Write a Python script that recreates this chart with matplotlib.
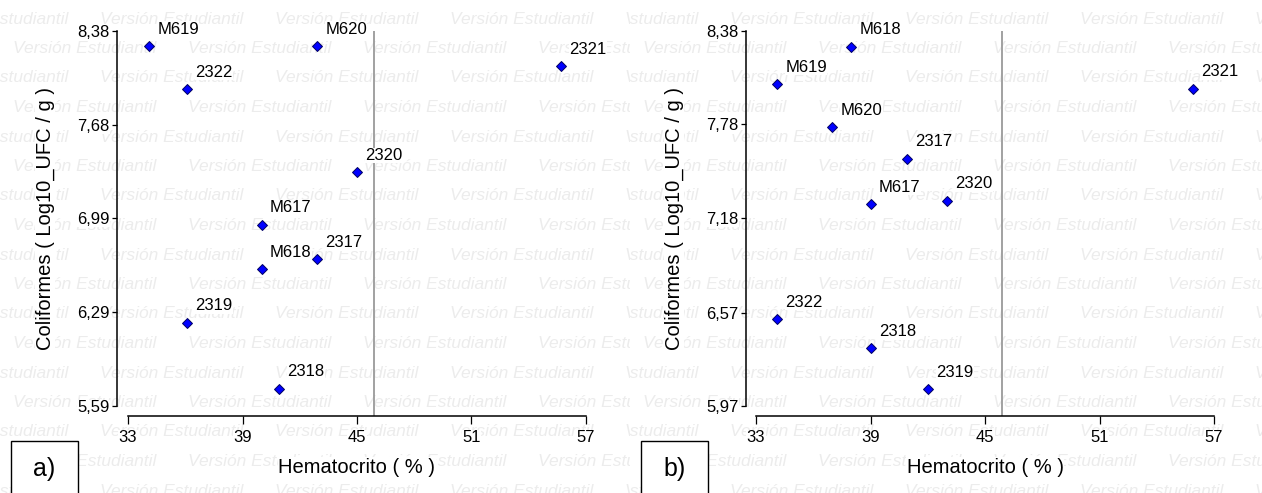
import numpy as np
import matplotlib
matplotlib.use('Agg')
import matplotlib.pyplot as plt
from matplotlib.patches import Rectangle

plt.rcParams['font.family'] = ['Liberation Sans', 'DejaVu Sans']

# datos panel a)
muestras_a = ['M619', '2322', 'M617', 'M620', '2321', '2320', '2317', 'M618', '2319', '2318']
hto_a = [34.1, 36.1, 40.0, 42.9, 55.7, 45.0, 42.9, 40.0, 36.1, 40.9]
coli_a = [8.27, 7.95, 6.94, 8.27, 8.12, 7.33, 6.68, 6.61, 6.21, 5.72]
yticks_a = [5.59, 6.29, 6.99, 7.68, 8.38]

# datos panel b)
muestras_b = ['M618', 'M619', 'M620', '2317', 'M617', '2320', '2321', '2322', '2318', '2319']
hto_b = [38.0, 34.1, 37.0, 40.9, 39.0, 43.0, 55.9, 34.1, 39.0, 42.0]
coli_b = [8.28, 8.04, 7.76, 7.56, 7.27, 7.29, 8.01, 6.53, 6.34, 6.08]
yticks_b = [5.97, 6.57, 7.18, 7.78, 8.38]

xticks = [33, 39, 45, 51, 57]
hto_ref = 45.9

W, H = 1262, 493
fig = plt.figure(figsize=(W / 100, H / 100), dpi=100)


def px_axes(x0, y0, x1, y1):
    return fig.add_axes([x0 / W, 1 - y1 / H, (x1 - x0) / W, (y1 - y0) / H])


def fondo(x0, x1, letra):
    # marca de agua + recuadro de la letra
    bg = px_axes(x0, 0, x1, H)
    bg.set_xlim(0, x1 - x0)
    bg.set_ylim(H, 0)
    bg.axis('off')
    for k in range(17):
        y = 19 + 29.5 * k
        start = -75 if k % 2 == 0 else 13
        for x in np.arange(start, x1 - x0, 175):
            bg.text(x, y, 'Versión Estudiantil', style='italic', fontsize=12.5,
                    color='#ececec', ha='left', va='center', clip_on=True)
    bg.add_patch(Rectangle((11, 441), 67, 60, fc='white', ec='black', lw=1.0,
                           zorder=5, clip_on=False))
    bg.text(44.5, 469, letra, fontsize=18, ha='center', va='center', zorder=6)


def panel(ax_px, tick_px, hto, coli, muestras, yticks):
    x0, y0, x1, y1 = ax_px
    tx0, tx1, ty_top, ty_bot = tick_px
    ax = px_axes(x0, y0, x1, y1)
    ax.patch.set_alpha(0)
    sx = (tx1 - tx0) / (xticks[-1] - xticks[0])
    sy = (ty_bot - ty_top) / (yticks[-1] - yticks[0])
    ax.set_xlim(xticks[0] - (tx0 - x0) / sx, xticks[-1] + (x1 - tx1) / sx)
    ax.set_ylim(yticks[0] - (y1 - ty_bot) / sy, yticks[-1] + (ty_top - y0) / sy)
    ylo = ax.get_ylim()[0]

    ax.vlines(hto_ref, ylo, yticks[-1], color='#9a9a9a', lw=1.3, zorder=2)
    ax.plot(hto, coli, ls='none', marker='D', ms=5, mfc='#0000ff', mec='#000060',
            mew=0.7, zorder=4)
    for m, x, y in zip(muestras, hto, coli):
        ax.annotate(m, (x, y), xytext=(6, 12), textcoords='offset points',
                    ha='left', va='center', fontsize=12, zorder=5,
                    bbox=dict(fc='white', ec='none', pad=0.3))

    for s in ['top', 'right']:
        ax.spines[s].set_visible(False)
    ax.spines['left'].set_bounds(yticks[0], yticks[-1])
    ax.spines['bottom'].set_bounds(xticks[0], xticks[-1])
    for s in ['left', 'bottom']:
        ax.spines[s].set_linewidth(1.1)
    ax.set_xticks(xticks, [str(t) for t in xticks])
    ax.set_yticks(yticks, [f'{t:.2f}'.replace('.', ',') for t in yticks])
    ax.tick_params(axis='x', length=6, width=0.9, pad=4, labelsize=12)
    ax.tick_params(axis='y', length=3.5, width=0.9, pad=2, labelsize=12)
    for lbl in ax.get_xticklabels() + ax.get_yticklabels():
        lbl.set_bbox(dict(fc='white', ec='none', pad=0.3))

    ax.set_xlabel('Hematocrito ( % )', fontsize=14.5, va='center',
                  bbox=dict(fc='white', ec='none', pad=0.3))
    ax.xaxis.set_label_coords(0.505, -0.13)
    ax.set_ylabel('Coliformes ( Log10_UFC / g )', fontsize=14.5, va='center',
                  bbox=dict(fc='white', ec='none', pad=0.3))
    ax.yaxis.set_label_coords(-72 / (x1 - x0), 0.5)
    return ax


fondo(0, 630, 'a)')
fondo(630, W, 'b)')
panel((117, 22, 592, 416), (128, 586, 31, 406), hto_a, coli_a, muestras_a, yticks_a)
panel((746, 22, 1220, 416), (756, 1214, 31, 406), hto_b, coli_b, muestras_b, yticks_b)

fig.savefig('out.png', dpi=100, facecolor='white')
